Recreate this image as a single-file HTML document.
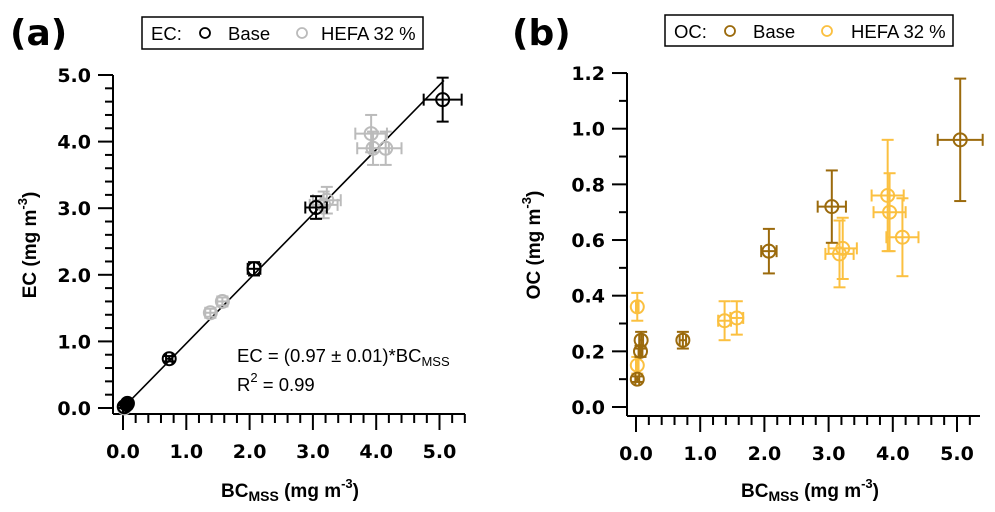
<!DOCTYPE html>
<html><head><meta charset="utf-8"><style>
body{margin:0;background:#fff;width:995px;height:512px;overflow:hidden}
svg{display:block;font-family:"Liberation Sans",Arial,sans-serif}
</style></head><body>
<svg id="chart" width="995" height="512" viewBox="0 0 995 512" xmlns="http://www.w3.org/2000/svg">
<text x="10" y="45" font-size="36" font-weight="bold" font-family="DejaVu Sans, sans-serif">(a)</text>
<text x="512" y="45" font-size="36" font-weight="bold" font-family="DejaVu Sans, sans-serif">(b)</text>
<g>
<rect x="142" y="17" width="281" height="32" fill="#fff" stroke="#000" stroke-width="1.5"/>
<text x="151" y="40" font-size="18.5">EC:</text>
<circle cx="205" cy="33" r="5" fill="none" stroke="#000" stroke-width="1.8"/>
<text x="228" y="40" font-size="18.5">Base</text>
<circle cx="302" cy="33" r="5" fill="none" stroke="#bbb" stroke-width="1.8"/>
<text x="321" y="40" font-size="18.5">HEFA 32 %</text>
</g>
<g>
<rect x="665" y="15" width="288" height="31" fill="#fff" stroke="#000" stroke-width="1.5"/>
<text x="674" y="38" font-size="18.5">OC:</text>
<circle cx="730" cy="31" r="5" fill="none" stroke="#9b6a0c" stroke-width="1.8"/>
<text x="753" y="38" font-size="18.5">Base</text>
<circle cx="827" cy="31" r="5" fill="none" stroke="#fbc040" stroke-width="1.8"/>
<text x="851" y="38" font-size="18.5">HEFA 32 %</text>
</g>
<g font-size="18.5">
<text x="237" y="362">EC = (0.97 ± 0.01)*BC<tspan font-size="13" dy="4">MSS</tspan></text>
<text x="237" y="391">R<tspan font-size="13" dy="-9">2</tspan><tspan dy="9"> = 0.99</tspan></text>
</g>
</svg>
<script>
const NS="http://www.w3.org/2000/svg";
const svg=document.getElementById('chart');
// Panel a data (EC)
const aBaseX=[0.02,0.06,0.07,0.73,2.07,3.05,5.05];
const aBaseY=[0.02,0.05,0.07,0.74,2.09,3.01,4.63];
const aBaseXe=[0.02,0.02,0.02,0.05,0.1,0.17,0.3];
const aBaseYe=[0.02,0.02,0.02,0.04,0.1,0.17,0.33];
const aHefaX=[0.02,0.02,1.38,1.57,3.17,3.22,3.92,3.95,4.15];
const aHefaY=[0.02,0.0,1.43,1.6,3.05,3.12,4.12,3.9,3.9];
const aHefaXe=[0.02,0.02,0.08,0.08,0.22,0.22,0.25,0.25,0.25];
const aHefaYe=[0.02,0.02,0.06,0.06,0.2,0.2,0.28,0.25,0.25];
const fitSlope=0.97;
const aXTicks=["0.0","1.0","2.0","3.0","4.0","5.0"];
const aYTicks=["0.0","1.0","2.0","3.0","4.0","5.0"];
// Panel b data (OC)
const bBaseX=[0.02,0.07,0.08,0.73,2.07,3.05,5.05];
const bBaseY=[0.10,0.20,0.24,0.24,0.56,0.72,0.96];
const bBaseXe=[0.03,0.03,0.03,0.05,0.12,0.22,0.35];
const bBaseYe=[0.01,0.02,0.03,0.03,0.08,0.13,0.22];
const bHefaX=[0.02,0.02,1.38,1.57,3.17,3.22,3.92,3.95,4.15];
const bHefaY=[0.36,0.15,0.31,0.32,0.55,0.57,0.76,0.70,0.61];
const bHefaXe=[0.02,0.02,0.1,0.1,0.22,0.22,0.25,0.25,0.25];
const bHefaYe=[0.05,0.03,0.07,0.06,0.12,0.11,0.2,0.14,0.14];
const bXTicks=["0.0","1.0","2.0","3.0","4.0","5.0"];
const bYTicks=["0.0","0.2","0.4","0.6","0.8","1.0","1.2"];

function mk(tag,attrs,parent){const e=document.createElementNS(NS,tag);for(const k in attrs)e.setAttribute(k,attrs[k]);(parent||svg).appendChild(e);return e;}

function panel(o){
  const sx=v=>o.x0+(v)*o.kx, sy=v=>o.y0-(v)*o.ky;
  const g=mk('g',{});
  
  
  const ax=mk('g',{stroke:'#000','stroke-width':2},g);
  
  
  mk('line',{x1:o.ax,y1:o.yTop,x2:o.ax,y2:o.axY},ax);
  mk('line',{x1:o.ax,y1:o.axY,x2:o.xEnd,y2:o.axY},ax);
  for(let i=0;;i++){const v=i*0.2;const x=sx(v);if(x>o.xEnd+0.5)break;const maj=i%5===0;
    mk('line',{x1:x,y1:o.axY,x2:x,y2:o.axY+(maj?16:9)},ax);}
  o.xT.forEach((t,i)=>{const tx=mk('text',{x:sx(parseFloat(t)),y:o.axY+44,'text-anchor':'middle','font-size':19,'font-weight':'bold',stroke:'none','font-family':'DejaVu Sans, sans-serif'},g);tx.textContent=t;
    
    });
  const ymax=parseFloat(o.yT[o.yT.length-1]);
  for(let i=0;i<=Math.round(ymax/o.minor);i++){const v=i*o.minor;const y=sy(v);const maj=i%o.per===0;
    mk('line',{x1:o.ax,y1:y,x2:o.ax-(maj?15:8),y2:y},ax);}
  o.yT.forEach(t=>{const tx=mk('text',{x:o.ax-22,y:sy(parseFloat(t))+7,'text-anchor':'end','font-size':19,'font-weight':'bold','font-family':'DejaVu Sans, sans-serif'},g);tx.textContent=t;
    
    });
  const xt=mk('text',{x:o.xTitleX,y:497,'text-anchor':'middle','font-size':19,'font-weight':'bold'},g);
  xt.innerHTML='BC<tspan font-size="14" dy="4">MSS</tspan><tspan dy="-4"> (mg m</tspan><tspan font-size="13" dy="-9">-3</tspan><tspan dy="9">)</tspan>';
  
  
  const yt=mk('text',{x:0,y:0,'text-anchor':'middle','font-size':19,'font-weight':'bold',transform:`translate(${o.yTitleX},${o.yTitleY}) rotate(-90)`},g);
  yt.innerHTML=o.yLab+' (mg m<tspan font-size="13" dy="-9">-3</tspan><tspan dy="9">)</tspan>';
  
  
  if(o.fit){const l=mk('line',{x1:sx(0),y1:sy(0),x2:sx(5.07),y2:sy(5.07*fitSlope),stroke:'#000','stroke-width':1.6},g);
    
    }
  o.series.forEach(s=>{
    s.x.forEach((xv,i)=>{
      const pg=mk('g',{stroke:s.c,'stroke-width':2,fill:'none'},g);
      
      
      const cx=sx(xv),cy=sy(s.y[i]);
      const x1=sx(xv-s.xe[i]),x2=sx(xv+s.xe[i]),y1=sy(s.y[i]-s.ye[i]),y2=sy(s.y[i]+s.ye[i]);
      mk('line',{x1:x1,y1:cy,x2:x2,y2:cy},pg);
      mk('line',{x1:cx,y1:y1,x2:cx,y2:y2},pg);
      mk('line',{x1:x1,y1:cy-6,x2:x1,y2:cy+6},pg);
      mk('line',{x1:x2,y1:cy-6,x2:x2,y2:cy+6},pg);
      mk('line',{x1:cx-6,y1:y1,x2:cx+6,y2:y1},pg);
      mk('line',{x1:cx-6,y1:y2,x2:cx+6,y2:y2},pg);
      mk('circle',{cx:cx,cy:cy,r:6.5},pg);
    });
  });
}
panel({id:'panel-a',x0:123,kx:63.3,y0:408,ky:66.6,ax:113,axY:414,yTop:75,xEnd:465,minor:0.2,per:5,
  xT:aXTicks,yT:aYTicks,xTitleX:290,yTitleX:36,yTitleY:245,yLab:'EC',fit:true,
  series:[{name:'ec-hefa',c:'#bbbbbb',x:aHefaX,y:aHefaY,xe:aHefaXe,ye:aHefaYe},
          {name:'ec-base',c:'#000',x:aBaseX,y:aBaseY,xe:aBaseXe,ye:aBaseYe}]});
panel({id:'panel-b',x0:636,kx:64.2,y0:407,ky:278.3,ax:627,axY:416,yTop:73,xEnd:980,minor:0.1,per:2,
  xT:bXTicks,yT:bYTicks,xTitleX:810,yTitleX:540,yTitleY:245,yLab:'OC',fit:false,
  series:[{name:'oc-hefa',c:'#fbc040',x:bHefaX,y:bHefaY,xe:bHefaXe,ye:bHefaYe},
          {name:'oc-base',c:'#9b6a0c',x:bBaseX,y:bBaseY,xe:bBaseXe,ye:bBaseYe}]});
</script>
</body></html>
